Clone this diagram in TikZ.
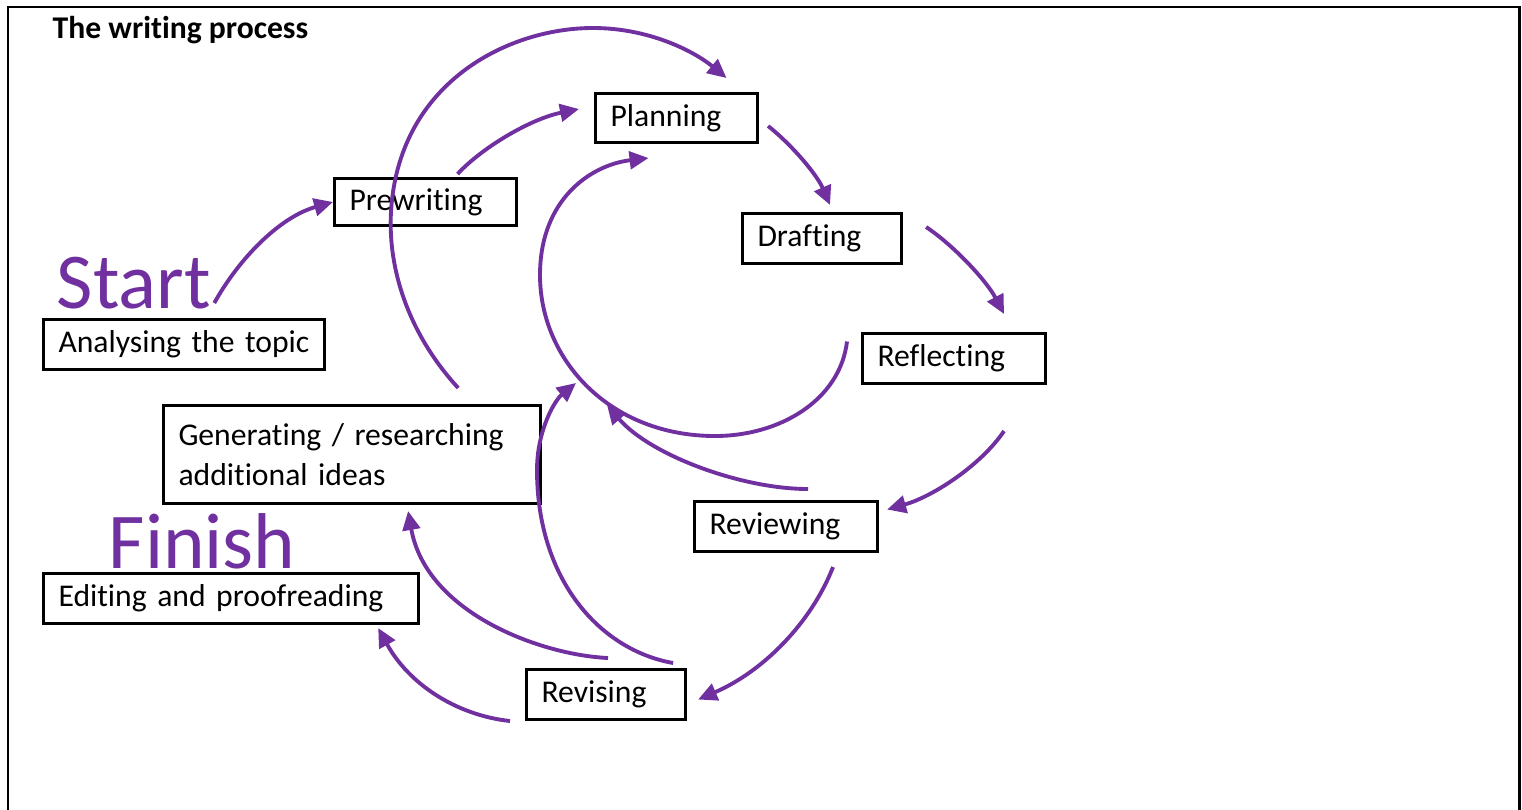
\documentclass[tikz,border=0pt]{standalone}
\usepackage{fontspec}
\setmainfont{Carlito}[Ligatures={NoCommon}]
\usepackage{tikz}
\usetikzlibrary{arrows.meta, positioning}
\definecolor{wpurple}{HTML}{7030A0}
\newcommand\stagefont{\fontsize{9}{11.4}\selectfont\spaceskip=0.23em\relax}
\tikzset{x=0.01cm, y=-0.01cm,
    stage/.style={draw, line width=0.85pt, anchor=north west, inner xsep=0.15cm,
        inner ysep=0pt, align=left, minimum height=0.5cm, font=\stagefont},
    bigword/.style={anchor=base west, inner sep=0pt, text=wpurple,
        font=\fontsize{22.5}{26}\selectfont},
    flow/.style={-{Triangle[length=5.4pt,width=5pt]}, wpurple, line width=1.1pt},
    textnode/.style={}}
\begin{document}
\begin{tikzpicture}
\useasboundingbox (0,0) rectangle (1522,809);
% frame, open at the bottom
\draw[line width=0.85pt] (8,812) -- (8,7) -- (1519,7) -- (1519,812);

\node[textnode, anchor=base west, inner sep=0pt, font=\fontsize{9}{11}\selectfont\bfseries] (title) at (52,38) {The writing process};

\node[bigword] (start) at (56,308) {Start};
\node[bigword] (finish) at (108,568) {Finish};

\node[stage, text width=2.51cm] (anal) at (42,318) {Analysing the topic};
\node[stage, text width=1.52cm, minimum height=0.47cm] (prew) at (333,177) {Prewriting};
\node[stage, text width=1.32cm, minimum height=0.49cm] (plan) at (594,92) {Planning};
\node[stage, text width=1.29cm] (draft) at (741,212) {Drafting};
\node[stage, text width=1.53cm] (refl) at (861,332) {Reflecting};
\node[stage, text width=1.53cm] (review) at (693,500) {Reviewing};
\node[stage, text width=1.29cm] (revise) at (525,668) {Revising};
\node[stage, text width=3.47cm, minimum height=0.98cm] (gen) at (162,404) {Generating / researching\\additional ideas};
\node[stage, text width=3.45cm] (edit) at (42,572) {Editing and proofreading};

% loose ends on the inner loop
\coordinate (loopA) at (607,405);
\coordinate (loopB) at (576,383);

\draw[flow] ([shift={(3,-5)}]start.base east) .. controls +(25,-45) and +(-53,15) .. (prew.west);
\draw[flow] ([shift={(32,-3)}]prew.north) .. controls +(24,-26) and +(-49,10) .. ([shift={(-15,-9)}]plan.west);
\draw[flow] ([shift={(-84,-16)}]gen.north east) .. controls (405,330) and (385,260) .. (392,200)
    .. controls (405,80) and (510,28) .. (593,28) .. controls (650,28) and (695,52) .. ([shift={(50,-14)}]plan.north);
\draw[flow] ([shift={(9,8)}]plan.east) .. controls +(25,20) and +(-13,-30) .. ([shift={(8,-7)}]draft.north);
\draw[flow] ([shift={(23,15)}]draft.north east) .. controls +(27,18) and +(-18,-34) .. ([shift={(50,-18)}]refl.north);
\draw[flow] ([shift={(-14,-17)}]refl.west) .. controls (840,400) and (780,436) .. (715,436)
    .. controls (610,436) and (540,360) .. (540,275) .. controls (540,200) and (590,165) .. ([shift={(-28,14)}]plan.south);
\draw[flow] ([shift={(50,46)}]refl.south) .. controls +(-23,34) and +(46,-13) .. ([shift={(8,-17)}]review.east);
\draw[flow] ([shift={(22,-11)}]review.north) .. controls +(-67,0) and +(43,50) .. (loopA);
\draw[flow] ([shift={(47,14)}]review.south) .. controls +(-22,56) and +(65,-28) .. ([shift={(11,5)}]revise.east);
\draw[flow] ([shift={(-15,0)}]revise.south west) .. controls +(-55,-6) and +(30,55) .. ([shift={(-42,3)}]edit.south east);
\draw[flow] ([shift={(2,-10)}]revise.north) .. controls +(-67,-3) and +(18,102) .. ([shift={(56,6)}]gen.south);
\draw[flow] ([shift={(-14,-5)}]revise.north east) .. controls (600,650) and (537,580) .. (537,470)
    .. controls (537,430) and (555,400) .. (loopB);
\end{tikzpicture}
\end{document}
